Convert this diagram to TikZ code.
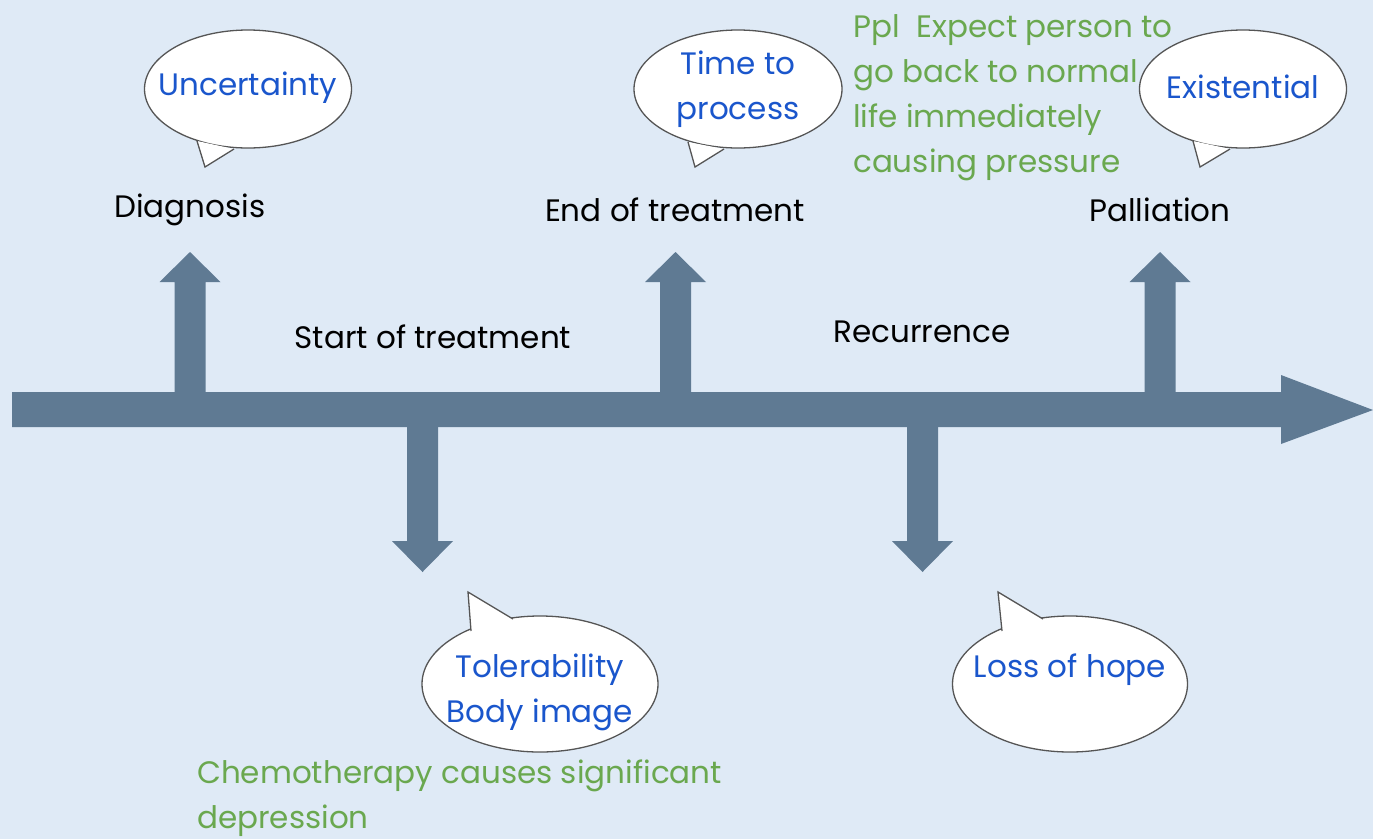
\documentclass[tikz,border=0pt]{standalone}
\usepackage{fontspec}
\setmainfont{Poppins}
\usetikzlibrary{shapes.geometric}
\definecolor{bgblue}{HTML}{DFEAF6}
\definecolor{barblue}{HTML}{5F7A93}
\definecolor{txtblue}{HTML}{1A56CC}
\definecolor{txtgreen}{HTML}{6AA84F}
\definecolor{rimgray}{HTML}{555555}
\tikzset{
  bar/.style={fill=barblue, draw=none},
  stage/.style={font=\fontsize{31}{40}\selectfont, text=black, inner sep=0pt},
  bubble/.style={ellipse, draw=rimgray, line width=1.3pt, fill=white, inner sep=0pt},
  feel/.style={font=\fontsize{31}{45}\selectfont, text=txtblue, align=center, inner sep=0pt},
  note/.style={font=\fontsize{31}{45}\selectfont, text=txtgreen, align=left, inner sep=0pt, anchor=north west},
  tail/.style={fill=white, draw=none},
  tailrim/.style={draw=rimgray, line width=1.3pt, line join=miter}
}
\newcommand{\upbar}[1]{%
  \fill[bar] (#1-15.5,400) -- (#1-15.5,282) -- (#1-30.5,282) -- (#1,252)
    -- (#1+30.5,282) -- (#1+15.5,282) -- (#1+15.5,400) -- cycle;}
\newcommand{\downbar}[1]{%
  \fill[bar] (#1-15.5,420) -- (#1-15.5,541) -- (#1-30.5,541) -- (#1,572)
    -- (#1+30.5,541) -- (#1+15.5,541) -- (#1+15.5,420) -- cycle;}
% bubble tail: #1 base point, #2 tip, #3 base point
\newcommand{\bubbletail}[3]{%
  \fill[tail] #1 -- #2 -- #3 -- cycle;
  \draw[tailrim] #1 -- #2 -- #3;}
\begin{document}
\begin{tikzpicture}[x=1pt, y=-1pt]
  \fill[bgblue] (0,0) rectangle (1373,839);
  \useasboundingbox (0,0) rectangle (1373,839);

  % timeline
  \fill[bar] (12,392) -- (1281,392) -- (1281,375) -- (1373,410)
    -- (1281,444) -- (1281,427) -- (12,427) -- cycle;
  \upbar{190}
  \upbar{675.5}
  \upbar{1160}
  \downbar{422.5}
  \downbar{922.5}

  % stages
  \node[stage] (diag) at (190,210) {Diagnosis};
  \node[stage] (endt) at (675,210) {End of treatment};
  \node[stage] (pall) at (1160,210) {Palliation};
  \node[stage] (start) at (433,337) {Start of treatment};
  \node[stage] (recur) at (922,332) {Recurrence};

  % speech bubbles
  \node[bubble, minimum width=207, minimum height=118] (b1) at (248,89) {};
  \bubbletail{(197,141)}{(205,167)}{(234,149)}
  \node[feel] (t1) at (248,88) {Uncertainty};

  \node[bubble, minimum width=208, minimum height=118] (b2) at (738,89) {};
  \bubbletail{(688,142)}{(695,167)}{(724,149)}
  \node[feel] (t2) at (b2) {Time to\\process};

  \node[bubble, minimum width=207, minimum height=118] (b3) at (1243,89) {};
  \bubbletail{(1193,141)}{(1200,167)}{(1230,149)}
  \node[feel] (t3) at (1243,87) {Existential};

  \node[bubble, minimum width=236, minimum height=136] (b4) at (540,684) {};
  \bubbletail{(471,631)}{(468,592)}{(513,619)}
  \node[feel] (t4) at (540,692) {Tolerability\\Body image};

  \node[bubble, minimum width=235, minimum height=136] (b5) at (1070,684) {};
  \bubbletail{(1002,631)}{(998,592)}{(1043,619)}
  \node[feel] (t5) at (1070,670) {Loss of hope};

  % notes
  \node[note] (n1) at (853,14) {Ppl\ \ Expect person to\\go back to normal\\life immediately\\causing pressure};
  \node[note] (n2) at (197,760) {Chemotherapy causes significant\\depression};
\end{tikzpicture}
\end{document}
